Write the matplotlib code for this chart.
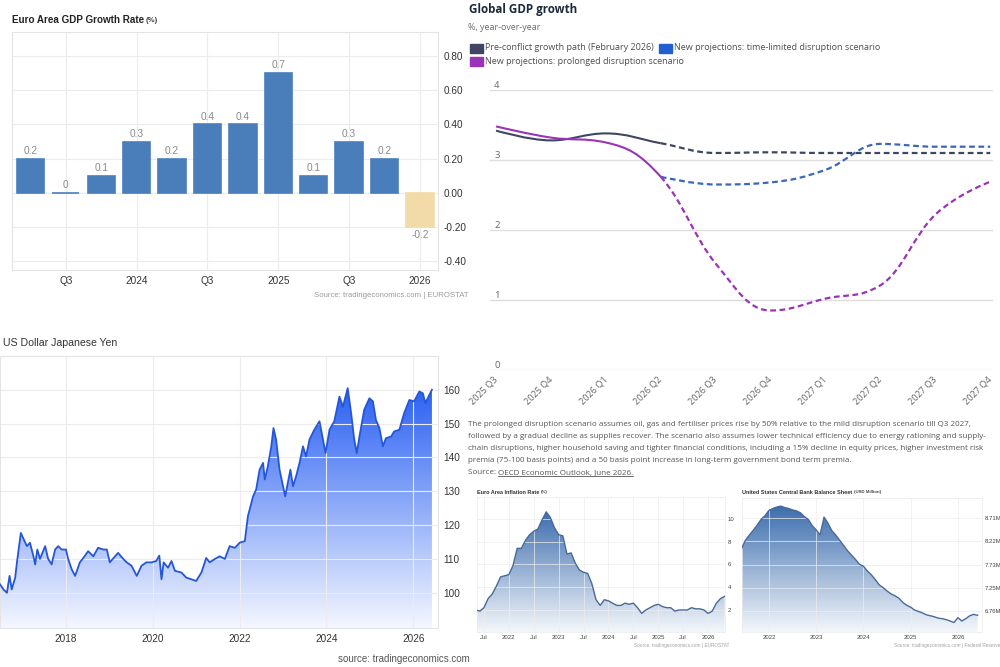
import numpy as np
import matplotlib
matplotlib.use("Agg")
import matplotlib.pyplot as plt
from matplotlib.patches import Polygon, Rectangle, PathPatch
from matplotlib.path import Path
from matplotlib.lines import Line2D

# ---------------- data ----------------
# Euro Area GDP growth (q/q %), 2023 Q2 .. 2026 Q1
gdp_vals = [0.2, 0.0, 0.1, 0.3, 0.2, 0.4, 0.4, 0.7, 0.1, 0.3, 0.2, -0.2]
gdp_tick_pos = [1, 3, 5, 7, 9, 11]
gdp_tick_labels = ["Q3", "2024", "Q3", "2025", "Q3", "2026"]

# OECD global GDP growth scenarios
oecd_quarters = ["2025 Q3", "2025 Q4", "2026 Q1", "2026 Q2", "2026 Q3",
                 "2026 Q4", "2027 Q1", "2027 Q2", "2027 Q3", "2027 Q4"]
pre_conflict = [3.42, 3.28, 3.38, 3.24, 3.10, 3.11, 3.10, 3.10, 3.10, 3.10]
prolonged = [3.48, 3.32, 3.25, 2.76, 1.52, 0.85, 1.02, 1.21, 2.22, 2.69]
time_limited = [2.76, 2.65, 2.68, 2.86, 3.23, 3.19, 3.19]   # from 2026 Q2
time_limited_start = 3

# USD/JPY
jpy_x = [2016.48, 2016.56, 2016.64, 2016.70, 2016.75, 2016.83, 2016.87, 2016.96,
         2017.02, 2017.10, 2017.17, 2017.25, 2017.29, 2017.34, 2017.40, 2017.52,
         2017.59, 2017.67, 2017.75, 2017.82, 2017.90, 2018.00, 2018.05, 2018.13,
         2018.21, 2018.32, 2018.40, 2018.51, 2018.63, 2018.74, 2018.86, 2018.94,
         2019.01, 2019.13, 2019.20, 2019.32, 2019.40, 2019.51, 2019.63, 2019.74,
         2019.85, 2019.97, 2020.08, 2020.15, 2020.20, 2020.25, 2020.35, 2020.43,
         2020.51, 2020.66, 2020.77, 2020.89, 2021.00, 2021.12, 2021.23, 2021.31,
         2021.43, 2021.54, 2021.66, 2021.77, 2021.89, 2022.00, 2022.12, 2022.19,
         2022.31, 2022.38, 2022.46, 2022.54, 2022.58, 2022.65, 2022.73, 2022.78,
         2022.84, 2022.92, 2023.00, 2023.05, 2023.11, 2023.17, 2023.23, 2023.30,
         2023.38, 2023.46, 2023.53, 2023.61, 2023.72, 2023.84, 2023.92, 2023.98,
         2024.07, 2024.18, 2024.30, 2024.38, 2024.49, 2024.57, 2024.64, 2024.70,
         2024.76, 2024.87, 2024.99, 2025.07, 2025.14, 2025.22, 2025.30, 2025.37,
         2025.49, 2025.56, 2025.68, 2025.79, 2025.91, 2026.02, 2026.14, 2026.22,
         2026.28, 2026.37, 2026.43]
jpy_y = [102.5, 101, 100, 105, 101, 104.5, 109, 117.7, 116, 113.8, 114.8, 110.8,
         108.4, 112.8, 110, 113.8, 110, 108.4, 112.8, 113.8, 112.8, 112.8, 110, 107,
         105, 109, 110.3, 112.3, 110.8, 113.3, 112.8, 112.8, 109, 110.8, 111.8, 110,
         109, 108, 105, 108, 109, 109, 109.4, 111, 104, 109, 107.4, 109.4, 106.5,
         106, 104.5, 104, 103.5, 106, 110.3, 109, 110, 110.8, 110, 113.8, 113.3,
         114.8, 115.3, 122.6, 128.5, 130.5, 136.4, 138.4, 133.5, 137.4, 143.3, 148.7,
         145.3, 136.4, 131.5, 128.5, 132.5, 136.4, 131.5, 134.4, 138.4, 143.3, 140.3,
         145.3, 148.2, 150.7, 145.3, 141.3, 148.2, 150.7, 158, 155, 160.5, 153, 145.3,
         141.3, 146.2, 154.1, 157.5, 156.6, 151.1, 148.7, 143.3, 145.7, 146.2, 147.7,
         148.2, 153.1, 157, 156.6, 159.5, 159, 156.1, 158.5, 160]
jpy_ticks = [2018, 2020, 2022, 2024, 2026]

# Euro Area inflation, monthly from May 2021
infl_start = 2021 + 4 / 12
infl_vals = [2.0, 1.9, 2.2, 3.0, 3.4, 4.1, 4.9, 5.0,
             5.1, 5.9, 7.4, 7.4, 8.1, 8.6, 8.9, 9.1, 9.9, 10.6, 10.1, 9.2,
             8.6, 8.5, 6.9, 7.0, 6.1, 5.5, 5.3, 5.2, 4.3, 2.9, 2.4, 2.9,
             2.8, 2.6, 2.4, 2.4, 2.6, 2.5, 2.6, 2.2, 1.7, 2.0, 2.2, 2.4,
             2.5, 2.3, 2.2, 2.2, 1.9, 2.0, 2.0, 2.0, 2.2, 2.1, 2.1, 2.0,
             1.7, 1.9, 2.6, 3.0, 3.2]
infl_ticks = [2021.5, 2022, 2022.5, 2023, 2023.5, 2024, 2024.5, 2025, 2025.5, 2026]
infl_tick_labels = ["Jul", "2022", "Jul", "2023", "Jul", "2024", "Jul", "2025", "Jul", "2026"]

# Fed balance sheet (USD million), monthly from Jun 2021
fed_start = 2021 + 5 / 12
fed_vals = [8060000, 8240000, 8350000, 8450000, 8560000, 8680000, 8760000,
            8870000, 8910000, 8940000, 8960000, 8930000, 8910000, 8880000, 8860000,
            8820000, 8740000, 8680000, 8550000,
            8460000, 8360000, 8730000, 8600000, 8440000, 8350000, 8240000, 8130000,
            8020000, 7930000, 7840000, 7740000,
            7700000, 7600000, 7520000, 7420000, 7310000, 7250000, 7180000, 7120000,
            7080000, 7030000, 6940000, 6880000,
            6840000, 6780000, 6750000, 6720000, 6680000, 6660000, 6640000, 6610000,
            6600000, 6580000, 6550000, 6520000,
            6620000, 6550000, 6600000, 6660000, 6690000, 6670000]
fed_ticks = [6760000, 7245000, 7730000, 8220000, 8710000]
fed_tick_labels = ["6.76M", "7.25M", "7.73M", "8.22M", "8.71M"]
fed_xticks = [2022, 2023, 2024, 2025, 2026]

W, H = 1000, 667
TE = "Liberation Sans"
OE = ["Open Sans", "Noto Sans"]


def box(l, t, r, b):
    return [l / W, 1 - b / H, (r - l) / W, (b - t) / H]


def ftext(x, y, s, **kw):
    return fig.text(x / W, 1 - y / H, s, **kw)


def right_edge(t):
    fig.canvas.draw()
    return t.get_window_extent().x1


def gradient_fill(ax, x, y, top, bottom, y0):
    verts = [(x[0], y0)] + list(zip(x, y)) + [(x[-1], y0)]
    poly = Polygon(verts, closed=True, facecolor="none", edgecolor="none")
    ax.add_patch(poly)
    t = np.linspace(0, 1, 256)[:, None, None]
    img = np.array(bottom)[None, None, :] + (np.array(top) - np.array(bottom))[None, None, :] * t
    im = ax.imshow(img, extent=[x[0], x[-1], y0, max(y)], origin="lower",
                   aspect="auto", zorder=1, interpolation="bilinear")
    im.set_clip_path(poly)


def spline_controls(xs, ys, smoothing=1.5):
    # highcharts-like spline control points
    n = len(xs)
    left, right = [None] * n, [None] * n
    for i in range(n):
        if i == 0 or i == n - 1:
            left[i] = right[i] = (xs[i], ys[i])
            continue
        d = smoothing + 1
        lx = (smoothing * xs[i] + xs[i - 1]) / d
        ly = (smoothing * ys[i] + ys[i - 1]) / d
        rx = (smoothing * xs[i] + xs[i + 1]) / d
        ry = (smoothing * ys[i] + ys[i + 1]) / d
        corr = (ry - ly) * (rx - xs[i]) / (rx - lx) + ys[i] - ry
        ly += corr
        ry += corr
        if ly > max(ys[i - 1], ys[i]):
            ly = max(ys[i - 1], ys[i]); ry = 2 * ys[i] - ly
        elif ly < min(ys[i - 1], ys[i]):
            ly = min(ys[i - 1], ys[i]); ry = 2 * ys[i] - ly
        if ry > max(ys[i + 1], ys[i]):
            ry = max(ys[i + 1], ys[i]); ly = 2 * ys[i] - ry
        elif ry < min(ys[i + 1], ys[i]):
            ry = min(ys[i + 1], ys[i]); ly = 2 * ys[i] - ry
        left[i] = (lx, ly)
        right[i] = (rx, ry)
    return left, right


def spline_part(ax, xs, ys, i0, i1, **kw):
    left, right = spline_controls(xs, ys)
    verts = [(xs[i0], ys[i0])]
    codes = [Path.MOVETO]
    for i in range(i0, i1):
        verts += [right[i], left[i + 1], (xs[i + 1], ys[i + 1])]
        codes += [Path.CURVE4] * 3
    ax.add_patch(PathPatch(Path(verts, codes), fill=False, capstyle="butt", **kw))


fig = plt.figure(figsize=(W / 100, H / 100), dpi=100)
fig.patch.set_facecolor("white")

# ---------------- panel 1: Euro Area GDP growth ----------------
ax1 = fig.add_axes(box(12, 32, 438, 270))
xs = np.arange(len(gdp_vals))
cols = ["#4a7ebb"] * (len(gdp_vals) - 1) + ["#f3dba9"]
bars = ax1.bar(xs, gdp_vals, width=0.77, color=cols, edgecolor=cols, linewidth=1.2, zorder=3)
ax1.bar_label(bars, labels=["%g" % v for v in gdp_vals], padding=2, fontsize=7.3,
              color="#8a8a8a", family=TE)
ax1.set_xlim(-0.52, 11.51)
ax1.set_ylim(-0.45, 0.94)
ax1.set_xticks(gdp_tick_pos)
ax1.set_xticklabels(gdp_tick_labels)
ax1.set_yticks([-0.4, -0.2, 0, 0.2, 0.4, 0.6, 0.8])
ax1.set_yticklabels(["%.2f" % v for v in [-0.4, -0.2, 0, 0.2, 0.4, 0.6, 0.8]])
ax1.yaxis.tick_right()
ax1.tick_params(length=0, labelsize=7.2, colors="#333333", pad=4)
for lab in ax1.get_xticklabels() + ax1.get_yticklabels():
    lab.set_family(TE)
ax1.grid(True, color="#ececec", lw=0.8, zorder=0)
for s in ax1.spines.values():
    s.set_color("#e4e4e4")
t1 = ftext(12, 20, "Euro Area GDP Growth Rate", fontsize=7.1, weight="bold", color="#222222",
           family=TE, va="center")
fig.text((right_edge(t1) + 2) / W, 1 - 21 / H, "(%)", fontsize=5.6, weight="bold",
         color="#444444", family=TE, va="center")
ftext(468, 295, "Source: tradingeconomics.com | EUROSTAT", fontsize=5.6, color="#9a9a9a",
      family=TE, ha="right", va="center")

# ---------------- panel 2: OECD global GDP growth ----------------
ax2 = fig.add_axes(box(490, 90, 993, 370))
qx = list(range(len(oecd_quarters)))
c_pre, c_blue, c_purple = "#3f4663", "#3a68b8", "#9a33b8"
dash = (0, (2.6, 1.6))
spline_part(ax2, qx, pre_conflict, 0, 3, color=c_pre, lw=1.5, zorder=3)
spline_part(ax2, qx, pre_conflict, 3, 9, color=c_pre, lw=1.6, linestyle=dash, zorder=3)
tx = qx[time_limited_start:]
spline_part(ax2, tx, time_limited, 0, len(tx) - 1, color=c_blue, lw=1.6, linestyle=dash, zorder=4)
spline_part(ax2, qx, prolonged, 0, 3, color=c_purple, lw=1.5, zorder=5)
spline_part(ax2, qx, prolonged, 3, 9, color=c_purple, lw=1.6, linestyle=dash, zorder=5)
ax2.set_xlim(-0.11, 9.05)
ax2.set_ylim(0, 4)
ax2.set_yticks([0, 1, 2, 3, 4])
ax2.grid(True, axis="y", color="#dedede", lw=1.0, zorder=0)
ax2.tick_params(axis="y", length=0, pad=-7, labelsize=6.8, labelcolor="#666666")
for lab in ax2.get_yticklabels():
    lab.set_family(OE)
    lab.set_verticalalignment("bottom")
ax2.set_xticks(qx)
ax2.set_xticklabels(oecd_quarters, rotation=45, ha="right", va="center",
                    rotation_mode="anchor", family=OE, fontsize=6.6, color="#666666")
ax2.tick_params(axis="x", length=0, pad=6)
for s in ax2.spines.values():
    s.set_visible(False)

ftext(469, 10, "Global GDP growth", fontsize=8.4, weight="bold", color="#1d2a3a",
      family=OE, va="center")
ftext(468, 27, "%, year-over-year", fontsize=6.4, color="#6b6b6b", family=OE, va="center")


def legend_item(lx, ly, lc, lt):
    fig.add_artist(Rectangle((lx / W, 1 - (ly + 4.5) / H), 13 / W, 9 / H,
                             transform=fig.transFigure, color=lc))
    return ftext(lx + 15, ly, lt, fontsize=6.5, color="#4d4d4d", family=OE, va="center")


lt1 = legend_item(470, 48, c_pre, "Pre-conflict growth path (February 2026)")
legend_item(right_edge(lt1) + 5, 48, "#1f5fcf", "New projections: time-limited disruption scenario")
legend_item(470, 61, c_purple, "New projections: prolonged disruption scenario")

note_lines = [
    "The prolonged disruption scenario assumes oil, gas and fertiliser prices rise by 50% relative to the mild disruption scenario till Q3 2027,",
    "followed by a gradual decline as supplies recover. The scenario also assumes lower technical efficiency due to energy rationing and supply-",
    "chain disruptions, higher household saving and tighter financial conditions, including a 15% decline in equity prices, higher investment risk",
    "premia (75-100 basis points) and a 50 basis point increase in long-term government bond term premia.",
]
note_fs = 5.75
for k, line in enumerate(note_lines):
    ftext(468, 424 + 12.3 * k, line, fontsize=note_fs, color="#555555", family=OE, va="center")
src_a = ftext(468, 473, "Source: ", fontsize=note_fs, color="#555555", family=OE, va="center")
link = fig.text(right_edge(src_a) / W, 1 - 473 / H, "OECD Economic Outlook, June 2026.",
                fontsize=note_fs, color="#555555", family=OE, va="center")
fig.canvas.draw()
lb = link.get_window_extent()
fig.add_artist(Line2D([lb.x0 / W, lb.x1 / W], [(lb.y0 + 0.5) / H, (lb.y0 + 0.5) / H],
                      transform=fig.transFigure, color="#555555", lw=0.6))

# ---------------- panel 3: USD/JPY ----------------
ax3 = fig.add_axes(box(0, 356, 438, 628))
gradient_fill(ax3, jpy_x, jpy_y, (0.17, 0.38, 0.95), (0.96, 0.97, 1.0), 89.6)
ax3.plot(jpy_x, jpy_y, color="#2556d6", lw=1.3, zorder=3)
ax3.set_xlim(2016.48, 2026.57)
ax3.set_ylim(89.6, 170)
ax3.set_xticks(jpy_ticks)
ax3.set_xticklabels([str(t) for t in jpy_ticks])
ax3.set_yticks([100, 110, 120, 130, 140, 150, 160])
ax3.yaxis.tick_right()
ax3.tick_params(length=0, labelsize=7.2, colors="#333333", pad=4)
for lab in ax3.get_xticklabels() + ax3.get_yticklabels():
    lab.set_family(TE)
ax3.grid(True, color="#ececec", lw=0.8, zorder=0)
for s in ax3.spines.values():
    s.set_color("#e4e4e4")
ftext(3, 343, "US Dollar Japanese Yen", fontsize=7.6, color="#333333", family=TE, va="center")
ftext(470, 659, "source: tradingeconomics.com", fontsize=7, color="#555555", family=TE,
      ha="right", va="center")

# ---------------- panel 5: Euro Area inflation ----------------
ax5 = fig.add_axes(box(477, 497, 725, 632))
ix = [infl_start + k / 12 for k in range(len(infl_vals))]
gradient_fill(ax5, ix, infl_vals, (0.24, 0.43, 0.68), (0.96, 0.97, 0.985), 0.07)
ax5.plot(ix, infl_vals, color="#4a6a98", lw=1.0, zorder=3)
ax5.set_xlim(2021.36, 2026.34)
ax5.set_ylim(0.07, 11.9)
ax5.set_xticks(infl_ticks)
ax5.set_xticklabels(infl_tick_labels)
ax5.set_yticks([2, 4, 6, 8, 10])
ax5.yaxis.tick_right()
ax5.tick_params(length=0, labelsize=4.3, colors="#444444", pad=2)
for lab in ax5.get_xticklabels() + ax5.get_yticklabels():
    lab.set_family(TE)
ax5.grid(True, color="#ededed", lw=0.5, zorder=0)
for s in ax5.spines.values():
    s.set_color("#eaeaea")
    s.set_linewidth(0.5)
t5 = ftext(477, 492, "Euro Area Inflation Rate", fontsize=4.0, weight="bold", color="#333333",
           family=TE, va="center")
fig.text((right_edge(t5) + 1.5) / W, 1 - 492.5 / H, "(%)", fontsize=3.2, weight="bold",
         color="#444444", family=TE, va="center")
ftext(729, 646, "Source: tradingeconomics.com | EUROSTAT", fontsize=3.4, color="#a0a0a0",
      family=TE, ha="right", va="center")

# ---------------- panel 6: Fed balance sheet ----------------
ax6 = fig.add_axes(box(742, 498, 982, 632))
fx_ = [fed_start + k / 12 for k in range(len(fed_vals))]
gradient_fill(ax6, fx_, fed_vals, (0.24, 0.43, 0.68), (0.96, 0.97, 0.985), 6320000)
ax6.plot(fx_, fed_vals, color="#4a6a98", lw=1.0, zorder=3)
ax6.set_xlim(2021.43, 2026.51)
ax6.set_ylim(6320000, 9130000)
ax6.set_xticks(fed_xticks)
ax6.set_xticklabels([str(t) for t in fed_xticks])
ax6.set_yticks(fed_ticks)
ax6.set_yticklabels(fed_tick_labels)
ax6.yaxis.tick_right()
ax6.tick_params(length=0, labelsize=4.3, colors="#444444", pad=2)
for lab in ax6.get_xticklabels() + ax6.get_yticklabels():
    lab.set_family(TE)
ax6.grid(True, color="#ededed", lw=0.5, zorder=0)
for s in ax6.spines.values():
    s.set_color("#eaeaea")
    s.set_linewidth(0.5)
t6 = ftext(742, 492, "United States Central Bank Balance Sheet", fontsize=4.0, weight="bold",
           color="#333333", family=TE, va="center")
fig.text((right_edge(t6) + 1.5) / W, 1 - 492.5 / H, "(USD Million)", fontsize=3.2,
         weight="bold", color="#444444", family=TE, va="center")
ftext(1000, 646, "Source: tradingeconomics.com | Federal Reserve", fontsize=3.4,
      color="#a0a0a0", family=TE, ha="right", va="center")

fig.savefig("out.png", dpi=100, facecolor="white")
